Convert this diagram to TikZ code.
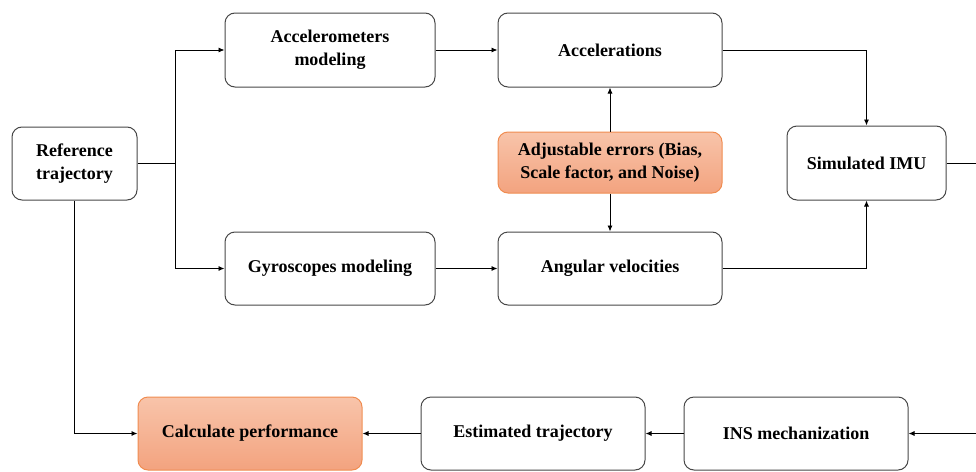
\documentclass[tikz,border=0pt]{standalone}
\usepackage{fontspec}
\setmainfont{Liberation Serif}
\usetikzlibrary{arrows.meta}
\definecolor{ofillA}{RGB}{248,196,170}
\definecolor{ofillB}{RGB}{243,163,127}
\definecolor{oedge}{RGB}{240,140,80}
\begin{document}
\begin{tikzpicture}[x=1pt,y=-1pt,
  box/.style={draw=black!72, line width=1pt, rounded corners=10pt, align=center,
    font=\bfseries\fontsize{18}{23}\selectfont, inner sep=0pt, fill=white},
  obox/.style={box, draw=oedge, top color=ofillA, bottom color=ofillB},
  conn/.style={-{Latex[length=6pt,width=5pt]}, line width=0.9pt, black}]
\useasboundingbox (0,0) rectangle (976,471);

\node[box, minimum width=125pt, minimum height=73pt] (ref) at (74.5,163.5) {Reference\\trajectory};
\node[box, minimum width=210pt, minimum height=74pt] (accm) at (330,50) {Accelerometers\\modeling};
\node[box, minimum width=224pt, minimum height=74pt] (acc) at (610,50) {Accelerations};
\node[obox, minimum width=224pt, minimum height=61pt] (adj) at (610,162.5) {Adjustable errors (Bias,\\Scale factor, and Noise)};
\node[box, minimum width=159pt, minimum height=74pt] (imu) at (866.5,163) {Simulated IMU};
\node[box, minimum width=210pt, minimum height=73pt] (gyr) at (330,268.5) {Gyroscopes modeling};
\node[box, minimum width=224pt, minimum height=73pt] (ang) at (610,268.5) {Angular velocities};
\node[obox, minimum width=224pt, minimum height=73pt] (calc) at (250,433.5) {Calculate performance};
\node[box, minimum width=224pt, minimum height=73pt] (est) at (533,433.5) {Estimated trajectory};
\node[box, minimum width=224pt, minimum height=73pt] (ins) at (796,433.5) {INS mechanization};

\coordinate (j) at (175,163.5);
\coordinate (r1) at (976,163);
\coordinate (r2) at (976,433.5);

\draw[line width=0.9pt] (ref.east) -- (j);
\draw[conn] (j) |- (accm.west);
\draw[conn] (j) |- (gyr.west);
\draw[conn] (ref.south) |- (calc.west);
\draw[conn] (accm.east) -- (acc.west);
\draw[conn] (gyr.east) -- (ang.west);
\draw[conn] (adj.north) -- (acc.south);
\draw[conn] (adj.south) -- (ang.north);
\draw[conn] (acc.east) -| (imu.north);
\draw[conn] (ang.east) -| (imu.south);
\draw[line width=0.9pt] (imu.east) -- (r1);
\draw[conn] (r2) -- (ins.east);
\draw[conn] (ins.west) -- (est.east);
\draw[conn] (est.west) -- (calc.east);
\end{tikzpicture}
\end{document}
